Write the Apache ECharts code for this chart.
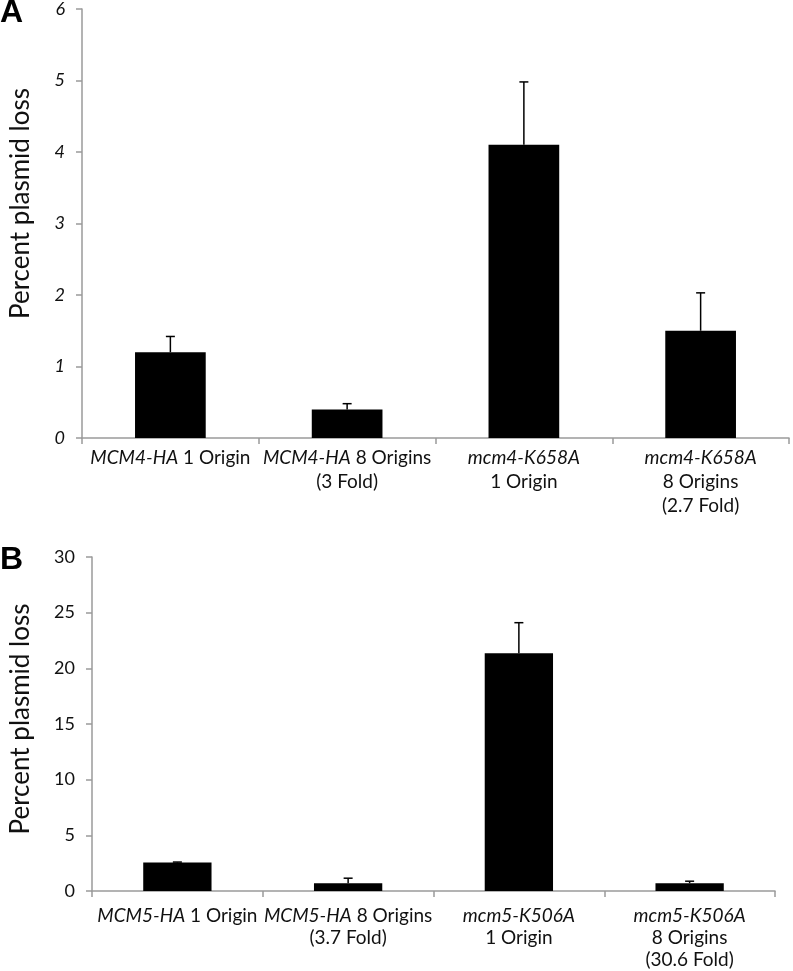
<!DOCTYPE html>
<html><head><meta charset="utf-8">
<script src="https://cdn.jsdelivr.net/npm/echarts@6/dist/echarts.min.js"></script>
<style>html,body{margin:0;padding:0;background:#fff}#c{width:793px;height:971px}</style>
</head><body><div id="c"></div>
<script>
const categoriesA = ['MCM4-HA 1 Origin', 'MCM4-HA 8 Origins\n(3 Fold)', 'mcm4-K658A\n1 Origin', 'mcm4-K658A\n8 Origins\n(2.7 Fold)'];
const valuesA = [1.2, 0.4, 4.1, 1.5];
const errorsA = [0.22, 0.08, 0.88, 0.53];
const ticksA = [0, 1, 2, 3, 4, 5, 6];

const categoriesB = ['MCM5-HA 1 Origin', 'MCM5-HA 8 Origins\n(3.7 Fold)', 'mcm5-K506A\n1 Origin', 'mcm5-K506A\n8 Origins\n(30.6 Fold)'];
const valuesB = [2.55, 0.7, 21.35, 0.7];
const errorsB = [0.05, 0.45, 2.75, 0.18];
const ticksB = [0, 5, 10, 15, 20, 25, 30];

const FONT = 'Lato';
const axisGrey = '#9a9a9a';

function labelFmt(v) {
  return v.replace(/^(\S+)/, '{i|$1}');
}

function errSeries(xi, yi, vals, errs) {
  return {
    type: 'custom', xAxisIndex: xi, yAxisIndex: yi, z: 10,
    data: vals.map((v, i) => [i, v, errs[i]]),
    renderItem: function (params, api) {
      const i = api.value(0), v = api.value(1), e = api.value(2);
      const p0 = api.coord([i, v]);
      const p1 = api.coord([i, v + e]);
      const cap = 4.5;
      return {
        type: 'group',
        children: [
          { type: 'line', shape: { x1: p0[0], y1: p0[1], x2: p1[0], y2: p1[1] }, style: { stroke: '#000', lineWidth: 1.5 } },
          { type: 'line', shape: { x1: p1[0] - cap, y1: p1[1], x2: p1[0] + cap, y2: p1[1] }, style: { stroke: '#000', lineWidth: 1.5 } }
        ]
      };
    }
  };
}

function xAxis(gi, cats, lh, margin) {
  return {
    type: 'category', gridIndex: gi, data: cats,
    axisLine: { lineStyle: { color: axisGrey, width: 1.5 } },
    axisTick: { show: true, length: 6, lineStyle: { color: axisGrey, width: 1.5 } },
    axisLabel: {
      interval: 0, color: '#111', fontFamily: FONT, fontSize: 19, lineHeight: lh, margin: margin,
      formatter: labelFmt,
      rich: { i: { fontStyle: 'italic', fontFamily: FONT, fontSize: 19, color: '#111', lineHeight: lh } }
    }
  };
}

function yAxis(gi, ticks, italic, gap, shift) {
  return {
    type: 'value', gridIndex: gi, min: ticks[0], max: ticks[ticks.length - 1], interval: ticks[1] - ticks[0],
    name: 'Percent plasmid loss', nameLocation: 'middle', nameGap: gap, nameRotate: 90,
    nameTextStyle: { fontFamily: FONT, fontSize: 26, color: '#111', padding: [0, 0, 0, shift] },
    splitLine: { show: false },
    axisLine: { show: true, lineStyle: { color: axisGrey, width: 1.5 } },
    axisTick: { show: true, length: 6, lineStyle: { color: axisGrey, width: 1.5 } },
    axisLabel: { color: '#111', fontFamily: FONT, fontSize: 18, fontStyle: italic ? 'italic' : 'normal', margin: 17 }
  };
}

const chart = echarts.init(document.getElementById('c'), null, { renderer: 'canvas' });
chart.setOption({
  animation: false,
  backgroundColor: '#fff',
  grid: [
    { left: 75, right: 4, top: 9, height: 429 },
    { left: 85, right: 18, top: 557, height: 334 }
  ],
  xAxis: [xAxis(0, categoriesA, 24, 8), xAxis(1, categoriesB, 22, 14)],
  yAxis: [yAxis(0, ticksA, true, 48, 40), yAxis(1, ticksB, false, 58, 10)],
  graphic: [
    { type: 'text', left: 0, top: -3, style: { text: 'A', font: 'bold 32px "Liberation Sans", Arial', fill: '#000' } },
    { type: 'text', left: 0, top: 544, style: { text: 'B', font: 'bold 32px "Liberation Sans", Arial', fill: '#000' } }
  ],
  series: [
    { type: 'bar', xAxisIndex: 0, yAxisIndex: 0, data: valuesA, barWidth: '40%', itemStyle: { color: '#000' } },
    errSeries(0, 0, valuesA, errorsA),
    { type: 'bar', xAxisIndex: 1, yAxisIndex: 1, data: valuesB, barWidth: '40%', itemStyle: { color: '#000' } },
    errSeries(1, 1, valuesB, errorsB)
  ]
});
</script></body></html>
